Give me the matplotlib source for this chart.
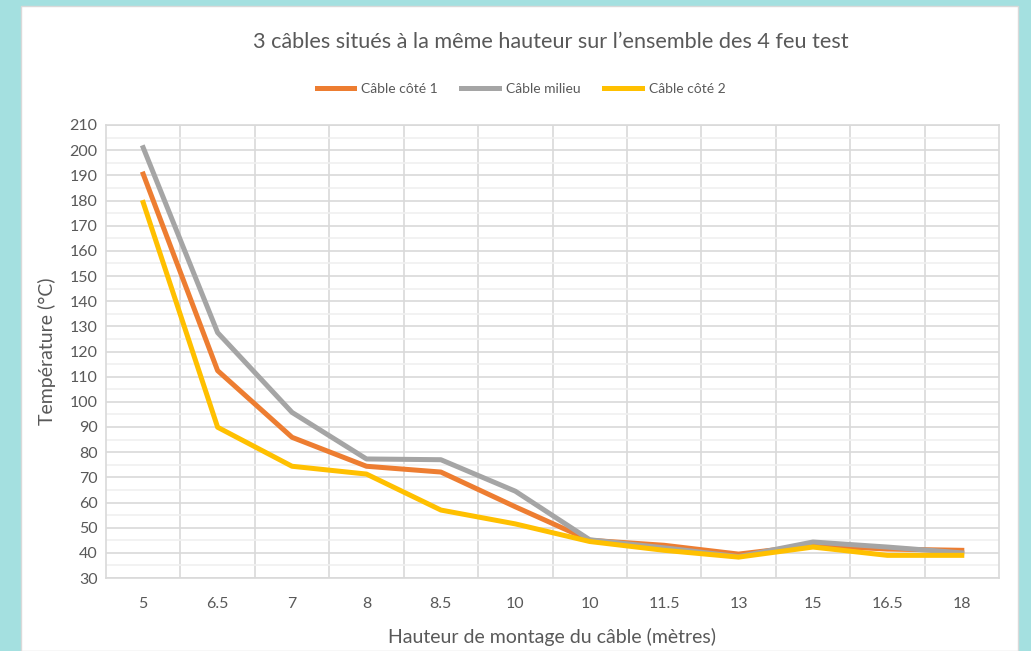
import matplotlib
matplotlib.use("Agg")
import matplotlib.pyplot as plt
import numpy as np
from matplotlib.patches import Rectangle

# --- Data ---
hauteurs = ["5", "6.5", "7", "8", "8.5", "10", "10", "11.5", "13", "15", "16.5", "18"]
cable_cote_1 = [190.5, 112.4, 85.9, 74.4, 72.1, 58.3, 45.0, 43.0, 39.5, 43.0, 41.5, 41.0]
cable_milieu = [201.0, 127.5, 95.8, 77.3, 77.0, 64.5, 45.2, 42.0, 38.5, 44.3, 42.3, 40.0]
cable_cote_2 = [179.2, 89.9, 74.4, 71.3, 57.0, 51.5, 44.5, 41.0, 38.3, 42.3, 39.0, 39.0]

TEXT = "#595959"
plt.rcParams.update({
    "font.family": ["Lato", "DejaVu Sans"],
})

fig = plt.figure(figsize=(10.31, 6.51), dpi=100)
fig.patch.set_facecolor("#A4E0E0")
# white panel, behind everything
panel = Rectangle((21 / 1031, 0), (1018 - 21) / 1031, 1 - 6 / 651,
                  transform=fig.transFigure, facecolor="white",
                  edgecolor="#D9D9D9", lw=1, zorder=-10)
fig.add_artist(panel)

ax = fig.add_axes([106 / 1031, 1 - 578 / 651, (999 - 106) / 1031, (578 - 125) / 651])
ax.set_zorder(1)
x = np.arange(len(hauteurs))

ax.plot(x, cable_cote_1, color="#ED7D31", lw=3.6, label="Câble côté 1", zorder=3)
ax.plot(x, cable_milieu, color="#A5A5A5", lw=3.6, label="Câble milieu", zorder=3)
ax.plot(x, cable_cote_2, color="#FFC000", lw=3.6, label="Câble côté 2", zorder=4)

ax.set_xlim(-0.5, len(hauteurs) - 0.5)
ax.set_ylim(30, 210)
ax.set_yticks(np.arange(30, 211, 10))
ax.set_yticks(np.arange(35, 210, 10), minor=True)
ax.set_xticks(x)
ax.set_xticklabels(hauteurs)
ax.set_xticks(np.arange(0.5, len(hauteurs) - 0.5, 1), minor=True)

ax.grid(axis="y", which="major", color="#D9D9D9", lw=1.2)
ax.grid(axis="y", which="minor", color="#F0F0F0", lw=1.2)
ax.grid(axis="x", which="minor", color="#D9D9D9", lw=1.2)
ax.set_axisbelow(True)

for s in ax.spines.values():
    s.set_color("#D9D9D9")
    s.set_linewidth(1.2)

ax.tick_params(which="both", length=0, colors=TEXT, labelsize=11.5)
ax.tick_params(axis="x", pad=14)
ax.tick_params(axis="y", pad=6)

ax.set_xlabel("Hauteur de montage du câble (mètres)", color=TEXT, fontsize=14, labelpad=12)
ax.set_ylabel("Température (°C)", color=TEXT, fontsize=14, labelpad=10)

fig.text(551 / 1031, 1 - 42 / 651, "3 câbles situés à la même hauteur sur l’ensemble des 4 feu test",
         ha="center", va="center", color=TEXT, fontsize=15.6)

ax.legend(loc="center", bbox_to_anchor=(521 / 1031, 1 - 89 / 651), bbox_transform=fig.transFigure,
          ncol=3, frameon=False, fontsize=10, labelcolor=TEXT, handlelength=2.7,
          columnspacing=1.7, handletextpad=0.5)

fig.savefig("out.png", dpi=100)
